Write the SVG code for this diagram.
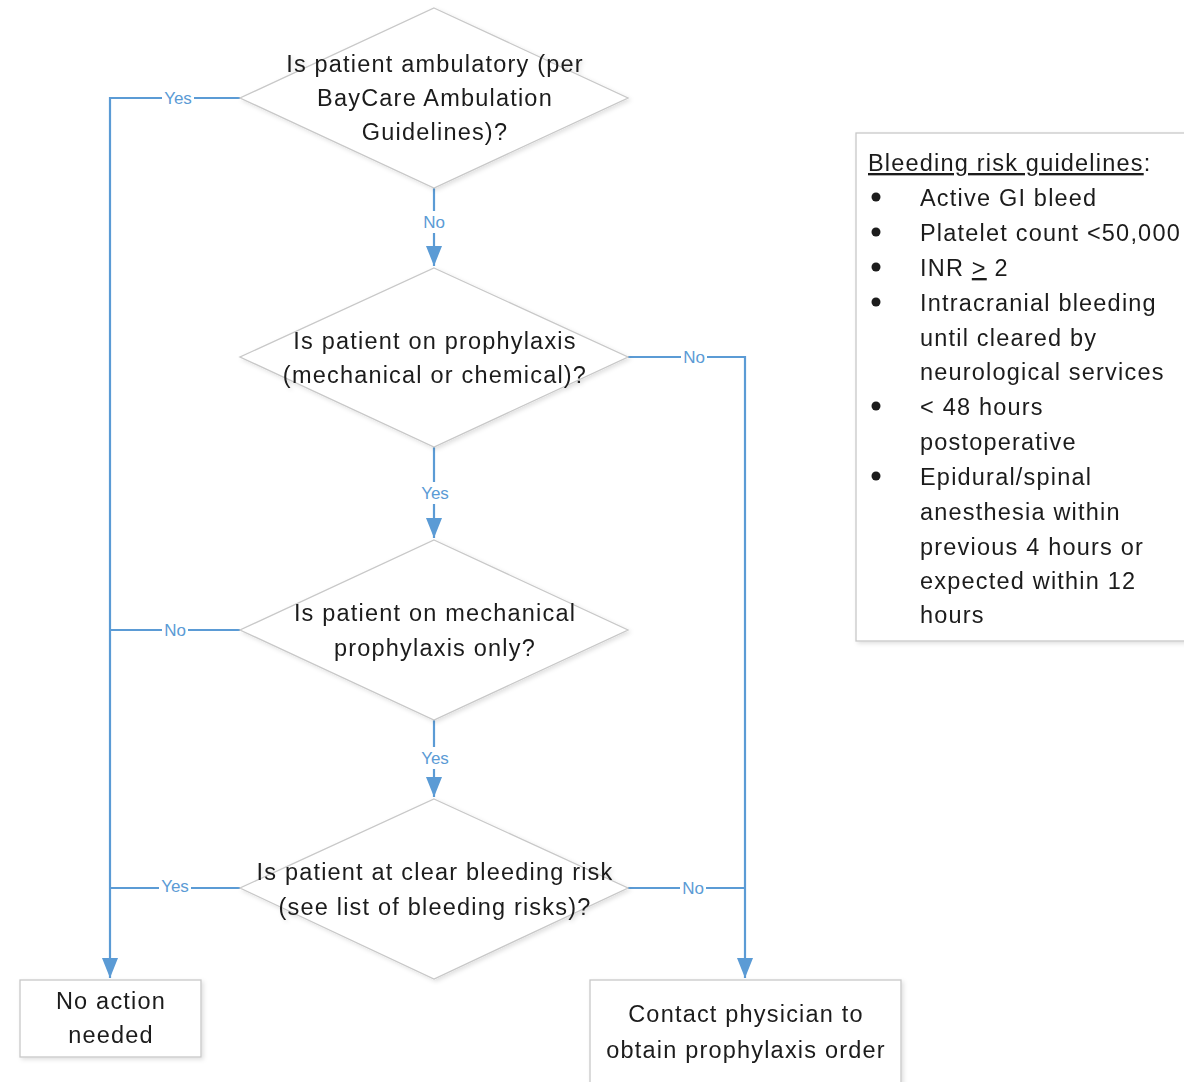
<svg xmlns="http://www.w3.org/2000/svg" width="1184" height="1082" viewBox="0 0 1184 1082">
<defs>
<marker id="arrow" viewBox="0 0 20 16" refX="20" refY="8" markerWidth="20" markerHeight="16" markerUnits="userSpaceOnUse" orient="auto">
<path d="M0,0 L20,8 L0,16 z" fill="#5B9BD5"/>
</marker>
<filter id="sh" x="-5%" y="-5%" width="115%" height="115%">
<feDropShadow dx="2" dy="2" stdDeviation="2" flood-color="#000" flood-opacity="0.12"/>
</filter>
</defs>
<style>
.shape{fill:#fff;stroke:#c8c8c8;stroke-width:1.3}
.t{font-family:"Liberation Sans",Arial,sans-serif;font-size:23.5px;letter-spacing:1.2px;fill:#1a1a1a;text-anchor:middle}
.lt{font-family:"Liberation Sans",Arial,sans-serif;font-size:23.5px;letter-spacing:1.2px;fill:#1a1a1a}
.conn{fill:none;stroke:#5B9BD5;stroke-width:2.2}
.lbl{font-family:"Liberation Sans",Arial,sans-serif;font-size:17px;fill:#5B9BD5;text-anchor:middle}
.lblbg{fill:#fff}
</style>
<rect width="1184" height="1082" fill="#fff"/>

<g id="connectors">
<path class="conn" d="M240,98 H110 V978" marker-end="url(#arrow)"/>
<path class="conn" d="M240,630 H110"/>
<path class="conn" d="M240,888 H110"/>
<path class="conn" d="M434,188 V266" marker-end="url(#arrow)"/>
<path class="conn" d="M434,447 V538" marker-end="url(#arrow)"/>
<path class="conn" d="M434,720 V797" marker-end="url(#arrow)"/>
<path class="conn" d="M628,357 H745 V978" marker-end="url(#arrow)"/>
<path class="conn" d="M628,888 H745"/>
<rect class="lblbg" x="162" y="88" width="32" height="20"/>
<text class="lbl" x="178" y="104">Yes</text>
<rect class="lblbg" x="420" y="211" width="28" height="22"/>
<text class="lbl" x="434" y="228">No</text>
<rect class="lblbg" x="681" y="347" width="26" height="20"/>
<text class="lbl" x="694" y="363">No</text>
<rect class="lblbg" x="419" y="482" width="32" height="22"/>
<text class="lbl" x="435" y="499">Yes</text>
<rect class="lblbg" x="162" y="620" width="26" height="20"/>
<text class="lbl" x="175" y="636">No</text>
<rect class="lblbg" x="419" y="747" width="32" height="22"/>
<text class="lbl" x="435" y="764">Yes</text>
<rect class="lblbg" x="159" y="876" width="32" height="20"/>
<text class="lbl" x="175" y="892">Yes</text>
<rect class="lblbg" x="680" y="878" width="26" height="20"/>
<text class="lbl" x="693" y="894">No</text>
</g>

<g id="d1" filter="url(#sh)">
<polygon class="shape" points="434,8 628,98 434,188 240,98"/>
<text class="t" x="435" y="72">Is patient ambulatory (per</text>
<text class="t" x="435" y="106">BayCare Ambulation</text>
<text class="t" x="435" y="140">Guidelines)?</text>
</g>

<g id="d2" filter="url(#sh)">
<polygon class="shape" points="434,268 628,357 434,447 240,357"/>
<text class="t" x="435" y="349">Is patient on prophylaxis</text>
<text class="t" x="435" y="383">(mechanical or chemical)?</text>
</g>

<g id="d3" filter="url(#sh)">
<polygon class="shape" points="434,540 628,630 434,720 240,630"/>
<text class="t" x="435" y="621">Is patient on mechanical</text>
<text class="t" x="435" y="656">prophylaxis only?</text>
</g>

<g id="d4" filter="url(#sh)">
<polygon class="shape" points="434,799 628,888 434,979 240,888"/>
<text class="t" x="435" y="880">Is patient at clear bleeding risk</text>
<text class="t" x="435" y="915">(see list of bleeding risks)?</text>
</g>

<g id="noaction" filter="url(#sh)">
<rect class="shape" x="20" y="980" width="181" height="77"/>
<text class="t" x="111" y="1009">No action</text>
<text class="t" x="111" y="1043">needed</text>
</g>

<g id="contact" filter="url(#sh)">
<rect class="shape" x="590" y="980" width="311" height="104"/>
<text class="t" x="746" y="1022">Contact physician to</text>
<text class="t" x="746" y="1058">obtain prophylaxis order</text>
</g>

<g id="legend" filter="url(#sh)">
<rect class="shape" x="856" y="133" width="340" height="508"/>
<text class="lt" x="868" y="171"><tspan text-decoration="underline">Bleeding risk guidelines</tspan>:</text>
<g fill="#1a1a1a">
<circle cx="876" cy="197" r="4.5"/>
<circle cx="876" cy="232" r="4.5"/>
<circle cx="876" cy="267" r="4.5"/>
<circle cx="876" cy="302" r="4.5"/>
<circle cx="876" cy="406" r="4.5"/>
<circle cx="876" cy="476" r="4.5"/>
</g>
<text class="lt" x="920" y="206">Active GI bleed</text>
<text class="lt" x="920" y="241">Platelet count &lt;50,000</text>
<text class="lt" x="920" y="276">INR <tspan text-decoration="underline">&gt;</tspan> 2</text>
<text class="lt" x="920" y="311">Intracranial bleeding</text>
<text class="lt" x="920" y="346">until cleared by</text>
<text class="lt" x="920" y="380">neurological services</text>
<text class="lt" x="920" y="415">&lt; 48 hours</text>
<text class="lt" x="920" y="450">postoperative</text>
<text class="lt" x="920" y="485">Epidural/spinal</text>
<text class="lt" x="920" y="520">anesthesia within</text>
<text class="lt" x="920" y="555">previous 4 hours or</text>
<text class="lt" x="920" y="589">expected within 12</text>
<text class="lt" x="920" y="623">hours</text>
</g>
</svg>
